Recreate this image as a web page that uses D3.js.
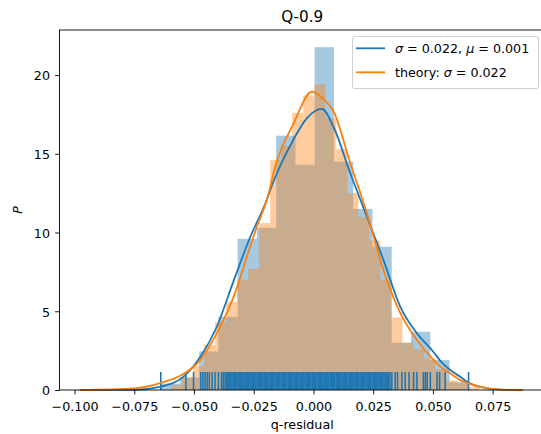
<!DOCTYPE html>
<html>
<head>
<meta charset="utf-8">
<script src="https://cdn.jsdelivr.net/npm/d3@7"></script>
<style>
body { margin: 0; background: #fff; }
svg { display: block; font-family: 'DejaVu Sans', sans-serif; }
</style>
</head>
<body>
<div id="chart"></div>
<script>
'use strict';

// blue sample: density histogram, 16 equal bins between sample min and max
var blueRange = [-0.0640, 0.0650];
var blueDensity = [0.41, 0.8, 2.45, 4.65, 9.6, 10.3, 16.15, 14.3, 21.77, 14.5, 11.5, 9.1, 3.0, 3.7, 1.9, 0.5];

// theory sample: density histogram
var orangeStart = -0.0596;
var orangeBinWidth = 0.00461;
var orangeDensity = [0.3, 0.8, 1.5, 2.86, 4.3, 5.6, 7.0, 7.7, 10.6, 14.6, 15.5, 17.6, 18.7, 19.4,
	17.25, 15.3, 12.5, 11.0, 9.5, 7.0, 4.6, 3.0, 2.6, 2.0, 1.3, 0.6, 0.4, 0.2];

// kde curves
var blueKdeX = [-0.0978, -0.075, -0.0642, -0.0544, -0.0474, -0.0405, -0.0335, -0.0265, -0.0195, -0.0181,
	-0.0084, -0.0028, 0.0035, 0.0084, 0.0154, 0.0224, 0.0293, 0.0363, 0.0433, 0.0503, 0.0531, 0.0572,
	0.0614, 0.0642, 0.0698, 0.0782, 0.0875];
var blueKdeY = [0, 0.01, 0.2, 0.85, 2.1, 4.0, 6.9, 9.7, 12.1, 12.7,
	15.9, 17.25, 17.85, 16.7, 13.76, 11.0, 8.25, 5.3, 3.6, 2.4, 1.85, 1.27,
	0.84, 0.53, 0.2, 0.02, 0];
var orangeKdeX = [-0.0978, -0.075, -0.0628, -0.0558, -0.0474, -0.0405, -0.0335, -0.0265, -0.0237, -0.0195,
	-0.016, -0.0084, -0.0007, 0.004, 0.0084, 0.0154, 0.0224, 0.0293, 0.0363, 0.0433, 0.0503, 0.0531,
	0.0572, 0.0614, 0.0642, 0.0698, 0.0782, 0.0875];
var orangeKdeY = [0, 0.1, 0.5, 0.9, 1.9, 3.6, 5.9, 9.1, 10.37, 12.06,
	14.2, 16.9, 18.94, 18.5, 17.7, 14.4, 11.2, 7.6, 4.9, 3.17, 1.9, 1.48,
	1.06, 0.63, 0.45, 0.2, 0.03, 0];

// rug ticks of the blue sample (units of 1e-4)
var rugValues = [-639, -534, -502, -472, -463, -454, -445, -436, -424, -412, -398, -385, -378,
	-370, -366, -361, -355, -350, -346, -341, -336, -330, -326, -321, -316, -311, -305, -300, -296,
	-291, -286, -280, -276, -271, -266, -261, -255, -250, -246, -241, -236, -230, -226, -221, -216,
	-211, -205, -200, -196, -191, -186, -180, -176, -171, -166, -161, -155, -150, -146, -141, -136,
	-130, -126, -121, -116, -111, -105, -100, -96, -91, -86, -80, -76, -71, -66, -61, -55, -50, -46,
	-41, -36, -30, -26, -21, -16, -11, -5, 0, 4, 9, 14, 20, 24, 29, 34, 39, 45, 50, 54, 59, 64, 70,
	74, 79, 84, 89, 95, 100, 104, 109, 114, 120, 124, 129, 134, 139, 145, 150, 154, 159, 164, 170,
	174, 179, 184, 189, 195, 200, 204, 209, 214, 220, 224, 229, 234, 239, 245, 250, 254, 259, 264,
	270, 274, 279, 284, 289, 295, 300, 304, 309, 314, 320,
	328, 342, 352, 370, 384, 400, 419, 433, 460, 468, 476, 489, 517, 528, 551, 649];

var xTicks = [-0.1, -0.075, -0.05, -0.025, 0, 0.025, 0.05, 0.075];
var yTicks = [0, 5, 10, 15, 20];

var blueColor = '#1f77b4';
var orangeColor = '#ff7f0e';

var W = 541, H = 434;
var plot = { left: 59.5, right: 545, top: 30, bottom: 390 };

var svg = d3.select('#chart').append('svg')
	.attr('width', W)
	.attr('height', H);

var x = d3.scaleLinear()
	.domain([-0.1063, 0.0969])
	.range([plot.left, plot.right]);

var y = d3.scaleLinear()
	.domain([0, 22.86])
	.range([plot.bottom, plot.top]);

// histogram bins
var blueStep = (blueRange[1] - blueRange[0]) / blueDensity.length;
var blueBins = blueDensity.map(function(d, i) {
	return { x0: blueRange[0] + i * blueStep, x1: blueRange[0] + (i + 1) * blueStep, v: d };
});
var orangeBins = orangeDensity.map(function(d, i) {
	return { x0: orangeStart + i * orangeBinWidth, x1: orangeStart + (i + 1) * orangeBinWidth, v: d };
});

function drawBars(bins, color) {
	svg.append('g').selectAll('rect')
		.data(bins)
		.enter().append('rect')
		.attr('x', function(d) { return x(d.x0); })
		.attr('width', function(d) { return x(d.x1) - x(d.x0); })
		.attr('y', function(d) { return y(d.v); })
		.attr('height', function(d) { return y(0) - y(d.v); })
		.style('fill', color)
		.style('fill-opacity', 0.4);
}
drawBars(blueBins, blueColor);
drawBars(orangeBins, orangeColor);

// lines go above all patches
var line = d3.line()
	.x(function(d) { return x(d[0]); })
	.y(function(d) { return y(d[1]); })
	.curve(d3.curveMonotoneX);

svg.append('path')
	.datum(d3.zip(blueKdeX, blueKdeY))
	.attr('d', line)
	.style('fill', 'none')
	.style('stroke', blueColor)
	.style('stroke-width', 1.8);

// rug
svg.append('g').selectAll('line')
	.data(rugValues)
	.enter().append('line')
	.attr('x1', function(d) { return x(d / 1e4); })
	.attr('x2', function(d) { return x(d / 1e4); })
	.attr('y1', y(0))
	.attr('y2', y(0) - 18)
	.style('stroke', blueColor)
	.style('stroke-width', 1.6);

svg.append('path')
	.datum(d3.zip(orangeKdeX, orangeKdeY))
	.attr('d', line)
	.style('fill', 'none')
	.style('stroke', orangeColor)
	.style('stroke-width', 1.8);

// axes
var xAxis = d3.axisBottom(x)
	.tickValues(xTicks)
	.tickFormat(d3.format('.3f'))
	.tickSize(4.4)
	.tickPadding(8);
var gx = svg.append('g')
	.attr('transform', 'translate(0,' + plot.bottom + ')')
	.call(xAxis);

var yAxis = d3.axisLeft(y)
	.tickValues(yTicks)
	.tickFormat(d3.format('d'))
	.tickSize(4.4)
	.tickPadding(5.1);
var gy = svg.append('g')
	.attr('transform', 'translate(' + plot.left + ',0)')
	.call(yAxis);

[gx, gy].forEach(function(g) {
	g.select('.domain').remove();
	g.selectAll('line').style('stroke', '#000').style('stroke-width', 0.9);
	g.selectAll('text')
		.style('font-family', 'DejaVu Sans')
		.style('font-size', '12.7px')
		.style('fill', '#000');
});
gy.selectAll('text').attr('dy', '0.38em');

// spines
svg.append('rect')
	.attr('x', plot.left)
	.attr('y', plot.top)
	.attr('width', plot.right - plot.left)
	.attr('height', plot.bottom - plot.top)
	.style('fill', 'none')
	.style('stroke', '#000')
	.style('stroke-width', 0.9);

// labels
svg.append('text')
	.attr('x', (plot.left + plot.right) / 2)
	.attr('y', 22)
	.style('text-anchor', 'middle')
	.style('font-size', '15.2px')
	.text('Q-0.9');

svg.append('text')
	.attr('x', (plot.left + plot.right) / 2)
	.attr('y', 429)
	.style('text-anchor', 'middle')
	.style('font-size', '12.7px')
	.text('q-residual');

svg.append('text')
	.attr('transform', 'translate(22,' + ((plot.top + plot.bottom) / 2) + ') rotate(-90)')
	.style('text-anchor', 'middle')
	.style('font-size', '12.7px')
	.style('font-style', 'italic')
	.text('P');

// legend
var legend = svg.append('g');
legend.append('rect')
	.attr('x', 352.5)
	.attr('y', 36.5)
	.attr('width', 186)
	.attr('height', 52)
	.attr('rx', 2.5)
	.style('fill', '#fff')
	.style('fill-opacity', 0.8)
	.style('stroke', '#cccccc')
	.style('stroke-width', 0.9);

var legendRows = [
	{ color: blueColor, parts: [['σ', true], [' = 0.022, ', false], ['μ', true], [' = 0.001', false]] },
	{ color: orangeColor, parts: [['theory: ', false], ['σ', true], [' = 0.022', false]] }
];
legendRows.forEach(function(r, i) {
	var cy = 48.3 + i * 24;
	legend.append('line')
		.attr('x1', 356).attr('x2', 385)
		.attr('y1', cy).attr('y2', cy)
		.style('stroke', r.color)
		.style('stroke-width', 1.8);
	var t = legend.append('text')
		.attr('x', 395)
		.attr('y', cy + 4.6)
		.style('font-size', '12.7px')
		.style('white-space', 'pre');
	r.parts.forEach(function(p) {
		t.append('tspan')
			.style('font-style', p[1] ? 'italic' : 'normal')
			.text(p[0]);
	});
});
</script>
</body>
</html>
